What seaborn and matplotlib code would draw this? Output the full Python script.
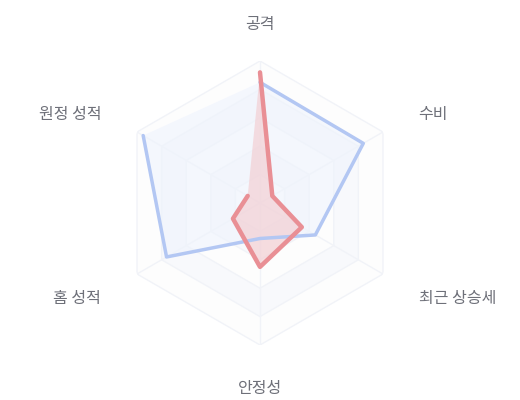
import numpy as np
import pandas as pd
import matplotlib
matplotlib.use('Agg')
import matplotlib.pyplot as plt
import seaborn as sns

# Radar axes (clockwise from top)
categories = ['공격', '수비', '최근 상승세', '안정성', '홈 성적', '원정 성적']
blue_values = [85, 84, 45, 25, 76, 95]
red_values = [92, 10, 34, 45, 22, 10]
max_value = 100
levels = [20, 40, 60, 80, 100]

sns.set_theme(style='white')
plt.rcParams['font.family'] = ['Noto Sans CJK KR', 'DejaVu Sans']

n = len(categories)
angles = np.linspace(0, 2 * np.pi, n, endpoint=False)
closed_angles = np.append(angles, angles[0])

fig = plt.figure(figsize=(5.2, 4.0), dpi=100)
ax = fig.add_axes([118 / 520, 55 / 400, 284 / 520, 284 / 400], projection='polar')
ax.set_theta_zero_location('N')
ax.set_theta_direction(-1)
ax.set_ylim(0, max_value)
ax.grid(False)
ax.spines['polar'].set_visible(False)
ax.set_xticks([])
ax.set_yticks([])
ax.set_facecolor('white')

# split areas and polygon grid
area_colors = ['#fdfdfd', '#f8f9fc']
prev = 0
for i, lv in enumerate(levels):
    outer = np.full(n + 1, lv)
    inner = np.full(n + 1, prev)
    ax.fill(np.concatenate([closed_angles, closed_angles[::-1]]),
            np.concatenate([outer, inner[::-1]]),
            color=area_colors[i % 2], lw=0, zorder=0)
    ax.plot(closed_angles, outer, color='#f1f3f8', lw=1, zorder=1)
    prev = lv
for a in angles:
    ax.plot([a, a], [0, max_value], color='#f1f3f8', lw=1, zorder=1)

df = pd.DataFrame({
    'angle': np.concatenate([closed_angles, closed_angles]),
    'value': np.concatenate([blue_values + blue_values[:1], red_values + red_values[:1]]),
    'series': ['blue'] * (n + 1) + ['red'] * (n + 1),
})

palette = {'blue': '#b3c7f3', 'red': '#e98f95'}
fills = {'blue': '#eef3fd', 'red': '#f3c9cd'}
for name in ['blue', 'red']:
    sub = df[df['series'] == name]
    ax.fill(sub['angle'], sub['value'], color=fills[name], alpha=0.6, lw=0, zorder=2)
    sns.lineplot(data=sub, x='angle', y='value', sort=False, ax=ax,
                 color=palette[name], lw=2.5 if name == 'blue' else 3.2, zorder=3, legend=False)
ax.set_xlabel('')
ax.set_ylabel('')

# axis names
aligns = ['center', 'left', 'left', 'center', 'right', 'right']
radii = [128, 129, 129, 128, 129, 129]
for a, label, ha, r in zip(angles, categories, aligns, radii):
    ax.annotate(label, xy=(a, r), xytext=(0, -2.5), textcoords='offset points',
                ha=ha, va='center', fontsize=11.5, color='#6e7079', annotation_clip=False)

fig.savefig('out.png', dpi=100)
